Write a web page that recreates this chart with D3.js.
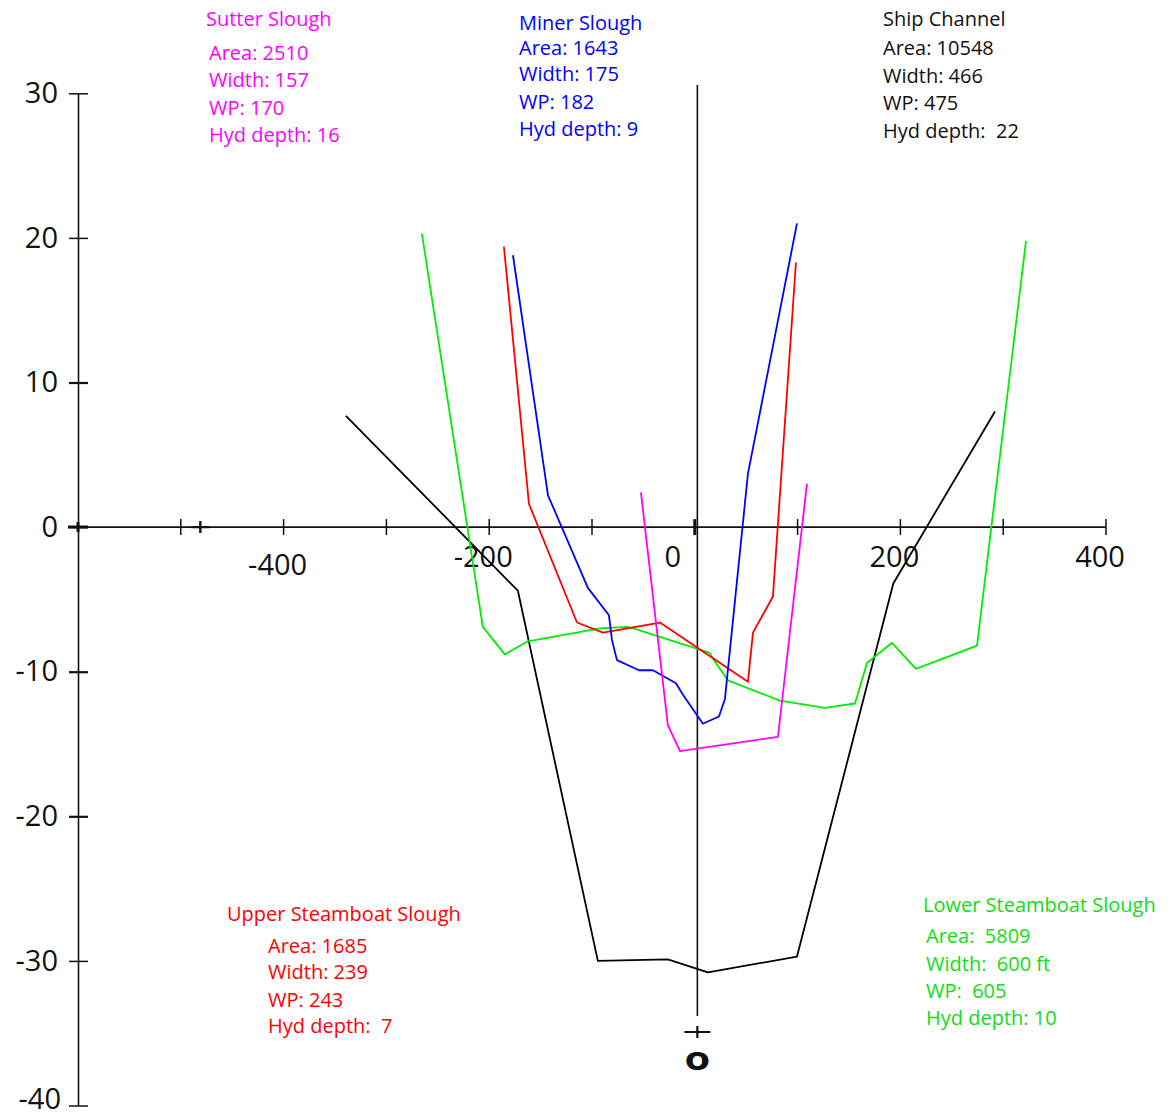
<!DOCTYPE html>
<html>
<head>
<meta charset="utf-8">
<script src="https://cdn.jsdelivr.net/npm/d3@7"></script>
<style>
  body { margin: 0; background: #fff; }
  svg { display: block; }
  text { font-family: "Open Sans", "Noto Sans", sans-serif; white-space: pre; }
</style>
</head>
<body>
<svg id="chart"></svg>
<script>
// cross sections, [distance ft, elevation ft]
var shipChannel = [[-339.4, 7.7], [-172.1, -4.4], [-94.3, -30.0], [-26.2, -29.9], [12.8, -30.8], [99.4, -29.7], [193.1, -3.9], [292.0, 8.0]];
var lowerSteamboat = [[-265.5, 20.3], [-206.2, -6.9], [-184.8, -8.8], [-162.4, -7.9], [-92.2, -7.0], [-66.2, -6.9], [-59.8, -7.0], [14.7, -8.7], [17.7, -9.1], [32.2, -10.6], [82.8, -12.0], [126.6, -12.5], [155.8, -12.2], [167.5, -9.4], [191.8, -8.0], [215.1, -9.8], [274.5, -8.2], [322.2, 19.8]];
var upperSteamboat = [[-185.7, 19.4], [-161.3, 1.6], [-114.6, -6.6], [-89.3, -7.3], [-33.9, -6.6], [51.7, -10.7], [56.6, -7.3], [76.0, -4.8], [98.4, 18.3]];
var minerSlough = [[-176.9, 18.8], [-142.8, 2.2], [-104.0, -4.2], [-83.5, -6.1], [-80.6, -7.8], [-75.7, -9.2], [-54.3, -9.9], [-40.7, -9.9], [-18.3, -10.8], [-11.5, -11.6], [7.9, -13.6], [23.5, -13.1], [29.3, -11.9], [51.7, 3.7], [99.4, 21.0]];
var sutterSlough = [[-52.4, 2.4], [-26.2, -13.7], [-14.4, -15.5], [80.9, -14.5], [109.1, 3.0]];

var xTicks = [-500, -400, -300, -200, -100, 0, 100, 200, 300, 400];
var xLabels = [-400, -200, 0, 200, 400];
var yTicks = [30, 20, 10, 0, -10, -20, -30, -40];

var sutterInfo = ["Sutter Slough", "Area: 2510", "Width: 157", "WP: 170", "Hyd depth: 16"];
var minerInfo = ["Miner Slough", "Area: 1643", "Width: 175", "WP: 182", "Hyd depth: 9"];
var shipInfo = ["Ship Channel", "Area: 10548", "Width: 466", "WP: 475", "Hyd depth:  22"];
var upperInfo = ["Upper Steamboat Slough", "Area: 1685", "Width: 239", "WP: 243", "Hyd depth:  7"];
var lowerInfo = ["Lower Steamboat Slough", "Area:  5809", "Width:  600 ft", "WP:  605", "Hyd depth: 10"];

var width = 1173, height = 1118;

var svg = d3.select("#chart")
    .attr("width", width)
    .attr("height", height);

svg.append("rect").attr("width", width).attr("height", height).attr("fill", "#fff");

var x = d3.scaleLinear().domain([-600, 400]).range([78, 1106]);
var y = d3.scaleLinear().domain([-40, 30]).range([1105.5, 93.3]);

var axisColor = "#111";

// y axis, ticks crossing the line
var yAxis = svg.append("g")
    .attr("transform", "translate(" + x(-600) + ",0)")
    .call(d3.axisLeft(y).tickValues(yTicks).tickSize(0).tickPadding(20)
        .tickFormat(function(d) { return String(d); }));
yAxis.select(".domain").attr("stroke", axisColor).attr("stroke-width", 1.6);
yAxis.selectAll(".tick text")
    .attr("font-size", 29)
    .attr("font-family", "'Open Sans', sans-serif")
    .attr("fill", "#111")
    .attr("dx", function(d) { return d == -40 ? 3 : 0; })
    .attr("dy", function(d) { return d == -40 ? "0.1em" : "0.32em"; });
yAxis.selectAll(".tick").append("line")
    .attr("x1", -9).attr("x2", 10)
    .attr("stroke", axisColor)
    .attr("stroke-width", function(d) { return d == 10 || d == -20 || d == -10 ? 2.2 : 1.5; });

// x axis at elevation 0
var xAxis = svg.append("g")
    .attr("transform", "translate(0," + y(0) + ")");
xAxis.append("line")
    .attr("x1", x(-600)).attr("x2", x(400))
    .attr("stroke", axisColor).attr("stroke-width", 1.6);
xAxis.selectAll(".xtick")
    .data(xTicks)
  .enter().append("line")
    .attr("x1", function(d) { return x(d); })
    .attr("x2", function(d) { return x(d); })
    .attr("y1", -8).attr("y2", 8)
    .attr("stroke", axisColor)
    .attr("stroke-width", function(d) { return d == 0 ? 3 : 1.5; });
xAxis.selectAll(".xlab")
    .data(xLabels)
  .enter().append("text")
    .attr("x", function(d) { return d == 0 ? x(d) - 22 : x(d) - 6; })
    .attr("y", function(d) { return d == -400 ? 38 : 30; })
    .attr("dy", "0.35em")
    .attr("text-anchor", "middle")
    .attr("font-size", 29)
    .attr("fill", "#111")
    .text(function(d) { return String(d); });

// small "+" marks on the axis
function plus(cx, cy, w, h, sw) {
  svg.append("path")
    .attr("d", "M" + (cx - w / 2) + "," + cy + "H" + (cx + w / 2) + "M" + cx + "," + (cy - h / 2) + "V" + (cy + h / 2))
    .attr("stroke", axisColor).attr("stroke-width", sw).attr("fill", "none");
}
plus(x(-600), y(0), 20, 10, 3);
plus(x(-481), y(0), 18, 12, 2.4);

// centre line
svg.append("line")
  .attr("x1", x(2.5)).attr("x2", x(2.5))
  .attr("y1", 85).attr("y2", 1016)
  .attr("stroke", axisColor).attr("stroke-width", 1.6);
plus(x(2.5), 1032, 26, 12, 2.2);
svg.append("text")
  .attr("x", x(2.5)).attr("y", 1070)
  .attr("text-anchor", "middle")
  .attr("font-family", "'Liberation Serif', 'DejaVu Serif', serif")
  .attr("font-weight", "bold")
  .attr("font-size", 32)
  .attr("fill", "#111")
  .attr("transform", "translate(" + x(2.5) + ",1070) scale(1.3,1) translate(" + (-x(2.5)) + ",-1070)")
  .text("o");

var line = d3.line()
    .x(function(d) { return x(d[0]); })
    .y(function(d) { return y(d[1]); });

var series = [
  {data: shipChannel, color: "#000000"},
  {data: lowerSteamboat, color: "#00ee00"},
  {data: upperSteamboat, color: "#ff0000"},
  {data: minerSlough, color: "#0000ff"},
  {data: sutterSlough, color: "#ff00ff"}
];

svg.selectAll(".section")
    .data(series)
  .enter().append("path")
    .attr("class", "section")
    .attr("d", function(d) { return line(d.data); })
    .attr("fill", "none")
    .attr("stroke", function(d) { return d.color; })
    .attr("stroke-width", 1.8)
    .attr("stroke-linejoin", "round");

// annotation blocks
function note(lines, color, tx, ty, lx, baselines) {
  var g = svg.append("g").attr("fill", color).attr("font-size", 20);
  g.append("text").attr("x", tx).attr("y", ty).text(lines[0]);
  g.selectAll(".ln")
      .data(lines.slice(1))
    .enter().append("text")
      .attr("x", lx)
      .attr("y", function(d, i) { return baselines[i]; })
      .text(function(d) { return d; });
}

note(sutterInfo, "#ff00ff", 206, 26, 209, [60, 87, 115, 142]);
note(minerInfo, "#0000ff", 519, 30, 519, [55, 81, 109, 136]);
note(shipInfo, "#111111", 883, 26, 883, [55, 83, 110, 138]);
note(upperInfo, "#ff0000", 227, 921, 268, [953, 979, 1007, 1033]);
note(lowerInfo, "#11dd11", 923, 912, 926, [943, 971, 998, 1025]);
</script>
</body>
</html>
